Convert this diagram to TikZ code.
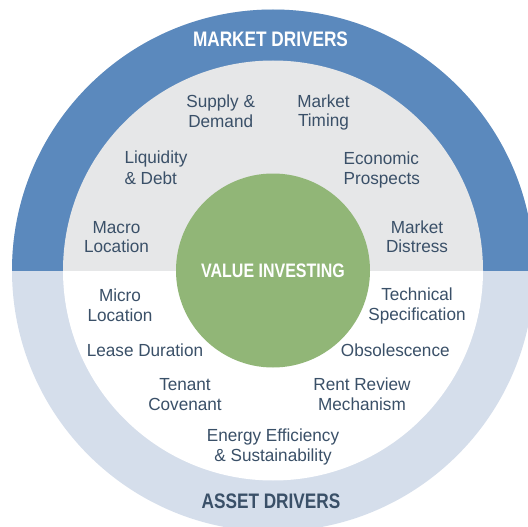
\documentclass[tikz,border=0pt]{standalone}
\usepackage{fontspec}
\setmainfont{Liberation Sans}
\newfontfamily\lblfont{Liberation Sans}[FakeStretch=0.98]
\newfontfamily\ttlfont{Liberation Sans}[FakeStretch=0.82]
\definecolor{ringblue}{HTML}{5B89BD}
\definecolor{ringlight}{HTML}{D5DEEB}
\definecolor{innergray}{HTML}{E6E7E8}
\definecolor{coregreen}{HTML}{91B677}
\definecolor{txt}{HTML}{3A5068}
\begin{document}
\begin{tikzpicture}[x=1pt,y=-1pt,
  lbl/.style={font=\lblfont\fontsize{17.5}{20}\selectfont, text=txt, inner sep=0pt, align=center, anchor=base},
  lbll/.style={lbl, align=left, anchor=base west},
  ttl/.style={font=\ttlfont\bfseries\fontsize{21}{24}\selectfont, inner sep=0pt, anchor=base}]
\useasboundingbox (0,0) rectangle (528,527);
\begin{scope}
  \clip (0,0) rectangle (528,527);
  % lower halves
  \fill[ringlight] (273,270.5) circle[radius=261pt];
  \fill[white] (273,270.5) circle[radius=210pt];
  % upper halves
  \begin{scope}
    \clip (0,0) rectangle (528,270.5);
    \fill[ringblue] (273,270.5) circle[radius=261pt];
    \fill[innergray] (273,270.5) circle[radius=210pt];
  \end{scope}
\end{scope}
\node[circle, fill=coregreen, minimum size=194pt, inner sep=0pt, text=white,
  font=\ttlfont\bfseries\fontsize{19.5}{22}\selectfont] (core) at (273,270.5) {VALUE INVESTING};
\node[ttl, text=white] (market) at (270.5,46.7) {MARKET DRIVERS};
\node[ttl, text=txt] (asset) at (271,508.3) {ASSET DRIVERS};
% multi-line nodes: anchor base is the baseline of the last line
\node[lbl] (sd) at (220.7,127.3) {Supply \&\\Demand};
\node[lbl] (mt) at (323.5,127) {Market\\Timing};
\node[lbll, font=\lblfont\fontsize{17.5}{21}\selectfont] (ld) at (124.3,184.3) {Liquidity\\\& Debt};
\node[lbll] (ep) at (343.5,184.5) {Economic\\Prospects};
\node[lbl, font=\lblfont\fontsize{17.5}{19}\selectfont] (ml) at (116.5,252.5) {Macro\\Location};
\node[lbl, font=\lblfont\fontsize{17.5}{19.5}\selectfont] (md) at (417,252.7) {Market\\Distress};
\node[lbl] (mi) at (120,321.7) {Micro\\Location};
\node[lbl, font=\lblfont\fontsize{17.5}{19.5}\selectfont] (ts) at (417,320.3) {Technical\\Specification};
\node[lbl] (le) at (145,356.7) {Lease Duration};
\node[lbl] (ob) at (395.3,356.7) {Obsolescence};
\node[lbl] (tc) at (185,410.7) {Tenant\\Covenant};
\node[lbl] (rr) at (362,410.7) {Rent Review\\Mechanism};
\node[lbl] (ee) at (273,461.7) {Energy Efficiency\\\& Sustainability};
\end{tikzpicture}
\end{document}
